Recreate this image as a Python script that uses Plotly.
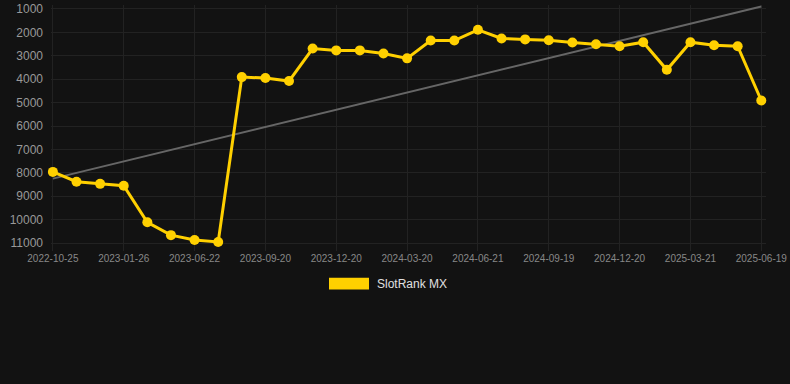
import numpy as np
import plotly.graph_objects as go

dates = ["2022-10-25", "2022-11-25", "2022-12-26", "2023-01-26", "2023-02-26", "2023-04-20",
         "2023-06-22", "2023-07-22", "2023-08-21", "2023-09-20", "2023-10-20", "2023-11-20",
         "2023-12-20", "2024-01-20", "2024-02-20", "2024-03-20", "2024-04-20", "2024-05-21",
         "2024-06-21", "2024-07-21", "2024-08-20", "2024-09-19", "2024-10-20", "2024-11-20",
         "2024-12-20", "2025-01-20", "2025-02-20", "2025-03-21", "2025-04-21", "2025-05-20",
         "2025-06-19"]
ranks = [7960, 8380, 8470, 8550, 10110, 10660, 10870, 10950, 3910, 3950, 4080, 2690,
         2770, 2770, 2900, 3110, 2350, 2350, 1890, 2260, 2300, 2340, 2430, 2510,
         2590, 2420, 3600, 2420, 2550, 2590, 4910]
tick_labels = dates[::3]
y_ticks = [1000, 2000, 3000, 4000, 5000, 6000, 7000, 8000, 9000, 10000, 11000]
series_name = "SlotRank MX"

idx = np.arange(len(ranks))
slope, intercept = np.polyfit(idx, ranks, 1)
trend = slope * idx + intercept

L, R, T, B = 51, 24, 2, 133
PW, PH = 790 - L - R, 384 - T - B

fig = go.Figure()
fig.add_trace(go.Scatter(
    x=dates, y=trend, mode="lines",
    line=dict(color="#666666", width=2), showlegend=False, hoverinfo="skip"))
fig.add_trace(go.Scatter(
    x=dates, y=ranks, mode="lines+markers", name=series_name,
    line=dict(color="#FFD000", width=3), marker=dict(color="#FFD000", size=10),
    showlegend=False, cliponaxis=False))

fig.update_layout(
    width=790, height=384,
    paper_bgcolor="#121212", plot_bgcolor="#121212",
    margin=dict(l=L, r=R, t=T, b=B),
    font=dict(family="Liberation Sans, Arial, sans-serif"),
    xaxis=dict(type="category", categoryorder="array", categoryarray=dates,
               range=[-0.08, 30.2], tickmode="array",
               tickvals=tick_labels, ticktext=tick_labels,
               tickfont=dict(size=10, color="#888888"),
               showgrid=True, gridcolor="#222222", zeroline=False, showline=False,
               ticks="", ticklen=0),
    yaxis=dict(range=[11338, 831], tickmode="array", tickvals=y_ticks,
               ticktext=[str(v) for v in y_ticks],
               tickfont=dict(size=12, color="#999999"),
               showgrid=True, gridcolor="#222222", zeroline=False, showline=False,
               ticks="", ticklabelstandoff=7, ticklabeloverflow="allow"),
    shapes=[dict(type="rect", xref="paper", yref="paper", x0=(329 - L) / PW,
                 x1=(369 - L) / PW, y0=(384 - B - 290) / PH, y1=(384 - B - 278) / PH,
                 fillcolor="#FFD000", line=dict(width=0))],
    annotations=[dict(text=series_name, xref="paper", yref="paper", x=(375 - L) / PW,
                      y=(384 - B - 284) / PH, xanchor="left", yanchor="middle",
                      showarrow=False, font=dict(size=12, color="#E0E0E0"))],
)

fig.write_html("out.html", config={"displayModeBar": False},
               post_script="document.body.style.margin='0';document.body.style.background='#121212';")
